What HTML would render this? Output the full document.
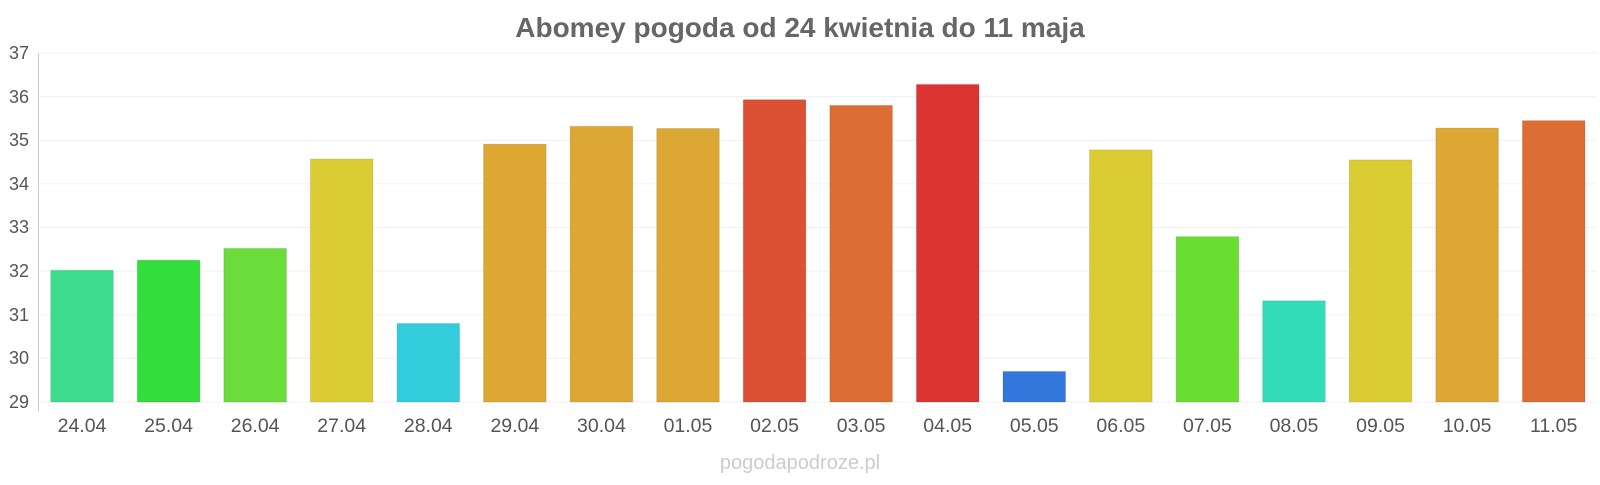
<!DOCTYPE html>
<html><head><meta charset="utf-8"><style>
body{margin:0;background:#fff;}
svg text{font-family:"Liberation Sans",sans-serif;}
</style></head><body>
<svg width="1600" height="480" xmlns="http://www.w3.org/2000/svg">
<text x="800" y="37" text-anchor="middle" font-size="28" font-weight="bold" fill="#666">Abomey pogoda od 24 kwietnia do 11 maja</text>
<g stroke="#f0f0f0" stroke-width="1">
<line x1="39" x2="1597" y1="53" y2="53"/><line x1="39" x2="1597" y1="96.6" y2="96.6"/><line x1="39" x2="1597" y1="140.3" y2="140.3"/><line x1="39" x2="1597" y1="183.9" y2="183.9"/><line x1="39" x2="1597" y1="227.5" y2="227.5"/><line x1="39" x2="1597" y1="271.1" y2="271.1"/><line x1="39" x2="1597" y1="314.8" y2="314.8"/><line x1="39" x2="1597" y1="358.4" y2="358.4"/><line x1="39" x2="1597" y1="402" y2="402"/>
</g>
<line x1="38.5" x2="38.5" y1="53" y2="412" stroke="#ccc"/>
<g font-size="18" fill="#555" text-anchor="end">
<text x="29" y="59">37</text><text x="29" y="103">36</text><text x="29" y="146">35</text><text x="29" y="190">34</text><text x="29" y="233">33</text><text x="29" y="277">32</text><text x="29" y="321">31</text><text x="29" y="364">30</text><text x="29" y="408">29</text>
</g>
<g id="bars"></g>
<g id="labels" font-size="19.5" fill="#555" text-anchor="middle"></g>
<text x="800" y="469" text-anchor="middle" font-size="20" fill="#ccc">pogodapodroze.pl</text>
<script>
var d=[["24.04",32.02,"#3ddc8c"],["25.04",32.25,"#33dd3a"],["26.04",32.52,"#6add3a"],["27.04",34.57,"#dccc33"],["28.04",30.8,"#33ccdd"],["29.04",34.91,"#dca833"],["30.04",35.32,"#dca833"],["01.05",35.27,"#dca833"],["02.05",35.93,"#dc5033"],["03.05",35.8,"#dc6e33"],["04.05",36.28,"#dc3333"],["05.05",29.7,"#3377dd"],["06.05",34.78,"#dccc33"],["07.05",32.79,"#6add33"],["08.05",31.32,"#33dcb8"],["09.05",34.55,"#dccc33"],["10.05",35.28,"#dca833"],["11.05",35.45,"#dc6e33"]];
var b=document.getElementById("bars"),l=document.getElementById("labels"),ns="http://www.w3.org/2000/svg";
d.forEach(function(e,i){var cx=82+i*86.57,top=402-(e[1]-29)*43.62;
var r=document.createElementNS(ns,"rect");r.setAttribute("x",cx-31.3);r.setAttribute("width",62.6);r.setAttribute("y",top);r.setAttribute("height",402-top);r.setAttribute("fill",e[2]);r.setAttribute("stroke","rgba(0,0,0,0.1)");b.appendChild(r);
var t=document.createElementNS(ns,"text");t.setAttribute("x",cx);t.setAttribute("y",432);t.textContent=e[0];l.appendChild(t);});
</script>
</svg>
</body></html>
